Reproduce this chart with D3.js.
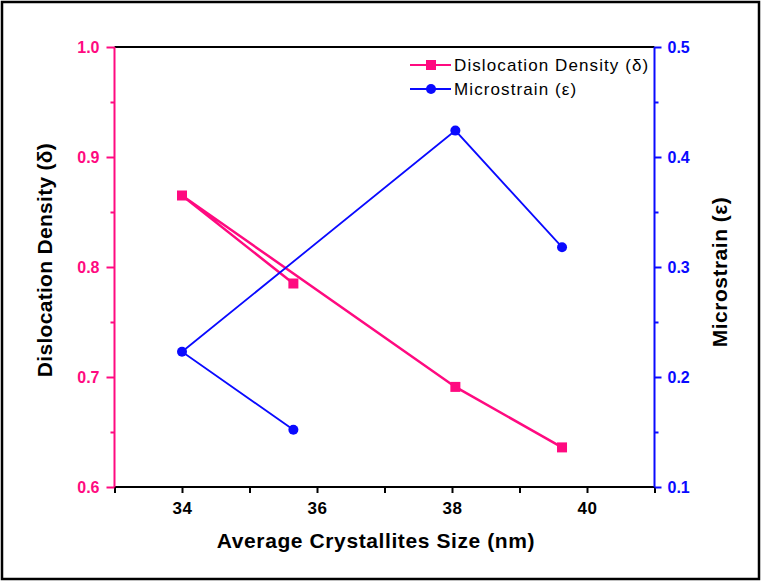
<!DOCTYPE html>
<html><head><meta charset="utf-8">
<script src="https://cdn.jsdelivr.net/npm/d3@7"></script>
<style>body{margin:0;background:#fff}svg{display:block}</style>
</head><body>
<script>
const sizes = [35.65, 34.0, 38.05, 39.63];
const dislocation = [0.785, 0.865, 0.691, 0.636];
const microstrain = [0.152, 0.223, 0.424, 0.318];
const xTicks = [34, 36, 38, 40];
const yLeftTicks = [0.6, 0.7, 0.8, 0.9, 1.0];
const yRightTicks = [0.1, 0.2, 0.3, 0.4, 0.5];

const W = 762, H = 582;
const pink = "#FF0A80", blue = "#0A0AFF";
const svg = d3.select("body").append("svg").attr("width", W).attr("height", H);
svg.append("rect").attr("x",2).attr("y",2).attr("width",W-5).attr("height",H-5)
  .attr("fill","#fff").attr("stroke","#000").attr("stroke-width",2.5);

const L = 114.5, R = 654.5, T = 47, B = 487;
const x = d3.scaleLinear().domain([33, 41]).range([L, R]);
const yL = d3.scaleLinear().domain([0.6, 1.0]).range([B, T]);
const yR = d3.scaleLinear().domain([0.1, 0.5]).range([B, T]);

const font = "'Liberation Sans', Arial, sans-serif";
const isMajor = (arr, d) => arr.some(v => Math.abs(v-d) < 1e-6);

// top line
svg.append("line").attr("x1",L).attr("x2",R).attr("y1",T).attr("y2",T).attr("stroke","#000").attr("stroke-width",2);

// bottom axis
const xAx = svg.append("g").attr("transform",`translate(0,${B})`)
  .call(d3.axisBottom(x).tickValues(d3.range(33,41.01,1)).tickSize(6).tickPadding(9)
    .tickFormat(d => xTicks.includes(d) ? d : ""));
xAx.select(".domain").attr("stroke","#000").attr("stroke-width",2).attr("d",`M${L},0H${R}`);
xAx.selectAll(".tick line").attr("stroke","#000").attr("stroke-width",2);
xAx.selectAll("text").attr("font-family",font).attr("font-size",17).attr("font-weight","bold")
  .attr("letter-spacing",0.5).attr("fill","#000");

// left axis
const yLAx = svg.append("g").attr("transform",`translate(${L},0)`)
  .call(d3.axisLeft(yL).tickValues(d3.range(0.6,1.001,0.05)).tickSize(8).tickPadding(7)
    .tickFormat(d => isMajor(yLeftTicks,d) ? d3.format(".1f")(d) : ""));
yLAx.select(".domain").attr("stroke",pink).attr("stroke-width",2).attr("d",`M0,${B}V${T}`);
yLAx.selectAll(".tick line").attr("stroke",pink).attr("stroke-width",2)
  .attr("x2", d => isMajor(yLeftTicks,d) ? -8 : -4);
yLAx.selectAll("text").attr("font-family",font).attr("font-size",16).attr("font-weight","bold").attr("fill",pink);

// right axis
const yRAx = svg.append("g").attr("transform",`translate(${R},0)`)
  .call(d3.axisRight(yR).tickValues(d3.range(0.1,0.501,0.05)).tickSize(7).tickPadding(6)
    .tickFormat(d => isMajor(yRightTicks,d) ? d3.format(".1f")(d) : ""));
yRAx.select(".domain").attr("stroke",blue).attr("stroke-width",2).attr("d",`M0,${B}V${T}`);
yRAx.selectAll(".tick line").attr("stroke",blue).attr("stroke-width",2)
  .attr("x2", d => isMajor(yRightTicks,d) ? 7 : 4);
yRAx.selectAll("text").attr("font-family",font).attr("font-size",16).attr("font-weight","bold").attr("fill",blue);

// titles
svg.append("text").attr("x",376).attr("y",548).attr("text-anchor","middle")
  .attr("font-family",font).attr("font-weight","bold").attr("font-size",21).attr("letter-spacing",0.6)
  .text("Average Crystallites Size (nm)");
svg.append("text").attr("transform",`translate(52,260) rotate(-90)`).attr("text-anchor","middle")
  .attr("font-family",font).attr("font-weight","bold").attr("font-size",21).attr("letter-spacing",0.3)
  .text("Dislocation Density (δ)");
svg.append("text").attr("transform",`translate(727,272) rotate(-90)`).attr("text-anchor","middle")
  .attr("font-family",font).attr("font-weight","bold").attr("font-size",21).attr("letter-spacing",0.5)
  .text("Microstrain (ε)");

// lines
const dData = sizes.map((s,i)=>({x:s,y:dislocation[i]}));
const mData = sizes.map((s,i)=>({x:s,y:microstrain[i]}));
svg.append("path").datum(dData).attr("fill","none").attr("stroke",pink).attr("stroke-width",2.5)
  .attr("d", d3.line().x(d=>x(d.x)).y(d=>yL(d.y)));
svg.append("path").datum(mData).attr("fill","none").attr("stroke",blue).attr("stroke-width",1.8)
  .attr("d", d3.line().x(d=>x(d.x)).y(d=>yR(d.y)));
svg.selectAll(".sq").data(dData).enter().append("rect")
  .attr("x",d=>x(d.x)-5).attr("y",d=>yL(d.y)-5).attr("width",10).attr("height",10).attr("fill",pink);
svg.selectAll(".ci").data(mData).enter().append("circle")
  .attr("cx",d=>x(d.x)).attr("cy",d=>yR(d.y)).attr("r",5).attr("fill",blue);

// legend
const lg = svg.append("g");
const items = [{t:"Dislocation Density (δ)", c:pink, m:"sq", y:65},{t:"Microstrain (ε)", c:blue, m:"ci", y:89}];
items.forEach(it=>{
  lg.append("line").attr("x1",410).attr("x2",451).attr("y1",it.y).attr("y2",it.y).attr("stroke",it.c).attr("stroke-width",2);
  if(it.m==="sq") lg.append("rect").attr("x",426).attr("y",it.y-5).attr("width",10).attr("height",10).attr("fill",it.c);
  else lg.append("circle").attr("cx",431).attr("cy",it.y).attr("r",5).attr("fill",it.c);
  lg.append("text").attr("x",454).attr("y",it.y+6).attr("font-family",font).attr("font-size",17)
    .attr("letter-spacing",1.1).attr("fill","#000").text(it.t);
});
</script>
</body></html>
